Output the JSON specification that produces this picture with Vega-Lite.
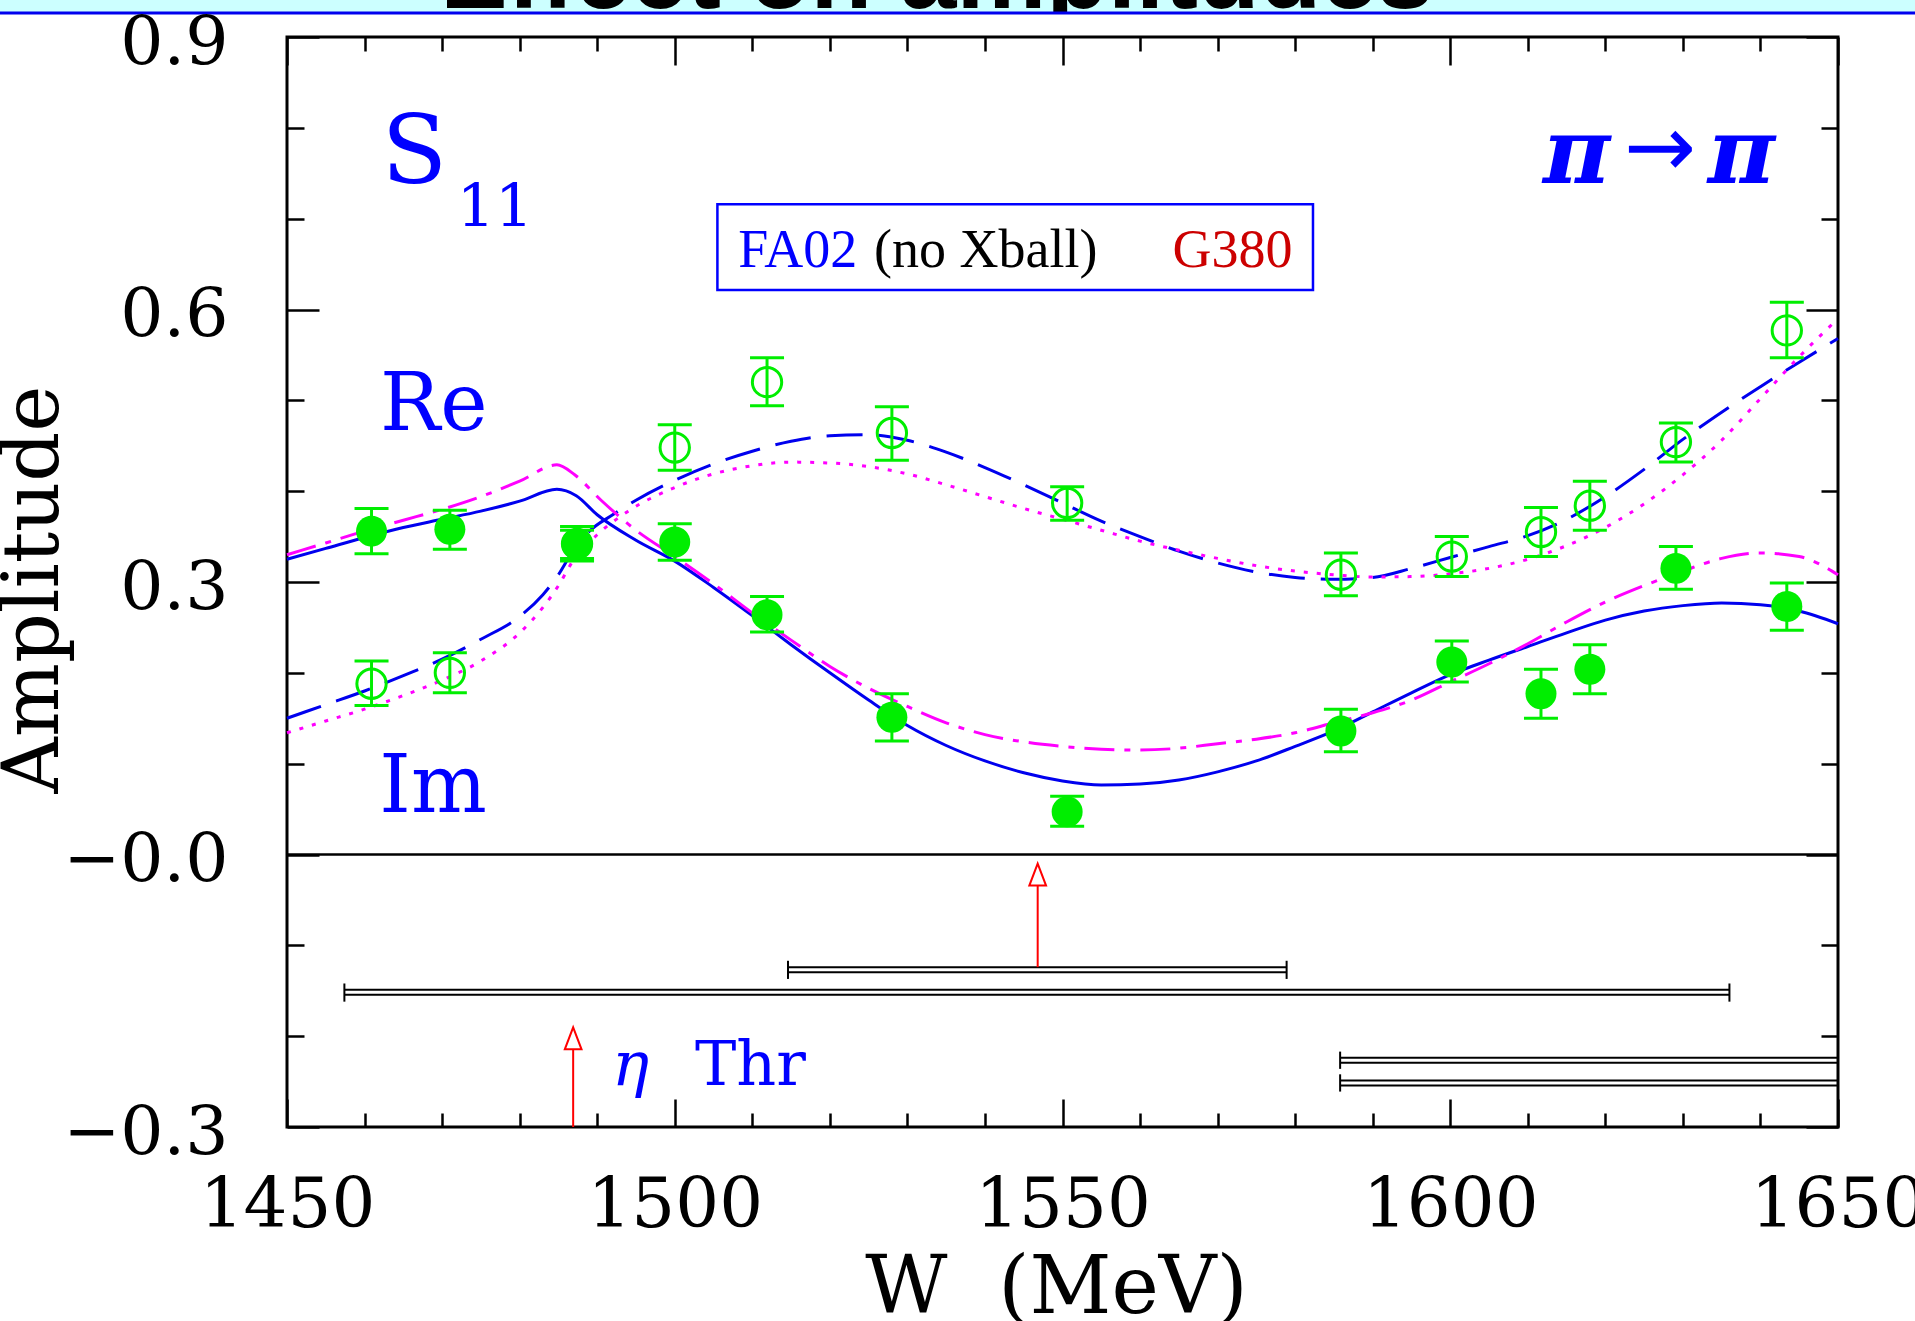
{
  "$schema": "https://vega.github.io/schema/vega-lite/v6.json",
  "width": 1551,
  "height": 1090,
  "autosize": {"type": "none"},
  "padding": {"left": 287, "top": 37, "right": 77, "bottom": 194},
  "background": "white",
  "config": {"view": {"stroke": "black", "strokeWidth": 3}, "axis": {"grid": false, "domain": false}},
  "resolve": {"axis": {"x": "independent", "y": "independent"}},
  "datasets": {
    "band": [{"W": 1400, "W2": 1680, "v": 0.97, "v2": 0.927}],
    "ttl": [{"W": 1533.8, "v": 0.9319, "t": "Effect on amplitudes"}],
    "cover": [{"W": 1540, "W2": 1566, "v": 0.9262, "v2": 0.9055}],
    "bandline": [{"W": 1400, "W2": 1680, "v": 0.9265}],
    "zero": [{"W": 1450, "W2": 1650, "v": 0}],
    "hb": [
      {"W": 1514.6, "W2": 1578.9, "v": -0.124},
      {"W": 1514.6, "W2": 1578.9, "v": -0.1295},
      {"W": 1457.4, "W2": 1636.0, "v": -0.149},
      {"W": 1457.4, "W2": 1636.0, "v": -0.1545},
      {"W": 1585.8, "W2": 1650, "v": -0.2238},
      {"W": 1585.8, "W2": 1650, "v": -0.2293},
      {"W": 1585.8, "W2": 1650, "v": -0.2487},
      {"W": 1585.8, "W2": 1650, "v": -0.2542}
    ],
    "vb": [
      {"W": 1514.6, "v": -0.117, "v2": -0.137},
      {"W": 1578.9, "v": -0.117, "v2": -0.137},
      {"W": 1457.4, "v": -0.142, "v2": -0.162},
      {"W": 1636.0, "v": -0.142, "v2": -0.162},
      {"W": 1585.8, "v": -0.217, "v2": -0.236},
      {"W": 1585.8, "v": -0.242, "v2": -0.261}
    ],
    "shaft": [
      {"W": 1546.8, "v": -0.124, "v2": -0.0336},
      {"W": 1486.9, "v": -0.3, "v2": -0.2145}
    ],
    "head": [
      {"W": 1546.8, "v": -0.0221},
      {"W": 1486.9, "v": -0.2024}
    ],
    "fa_re": [
      {"W": 1450, "v": 0.150}, {"W": 1455, "v": 0.165}, {"W": 1460, "v": 0.180}, {"W": 1465, "v": 0.197},
      {"W": 1470, "v": 0.215}, {"W": 1475, "v": 0.237}, {"W": 1480, "v": 0.262}, {"W": 1483, "v": 0.286},
      {"W": 1485, "v": 0.308}, {"W": 1487, "v": 0.336}, {"W": 1489, "v": 0.356}, {"W": 1492, "v": 0.374},
      {"W": 1495, "v": 0.390}, {"W": 1500, "v": 0.412}, {"W": 1505, "v": 0.430}, {"W": 1510, "v": 0.444},
      {"W": 1515, "v": 0.455}, {"W": 1520, "v": 0.461}, {"W": 1525, "v": 0.462}, {"W": 1530, "v": 0.456},
      {"W": 1535, "v": 0.443}, {"W": 1540, "v": 0.426}, {"W": 1545, "v": 0.407}, {"W": 1550, "v": 0.387},
      {"W": 1555, "v": 0.367}, {"W": 1560, "v": 0.350}, {"W": 1565, "v": 0.334}, {"W": 1570, "v": 0.321},
      {"W": 1575, "v": 0.311}, {"W": 1580, "v": 0.305}, {"W": 1585, "v": 0.303}, {"W": 1590, "v": 0.305},
      {"W": 1595, "v": 0.315}, {"W": 1600, "v": 0.327}, {"W": 1605, "v": 0.339}, {"W": 1610, "v": 0.351},
      {"W": 1615, "v": 0.369}, {"W": 1620, "v": 0.394}, {"W": 1625, "v": 0.424}, {"W": 1630, "v": 0.457},
      {"W": 1635, "v": 0.487}, {"W": 1640, "v": 0.515}, {"W": 1645, "v": 0.542}, {"W": 1650, "v": 0.568}
    ],
    "g_re": [
      {"W": 1450, "v": 0.134}, {"W": 1455, "v": 0.147}, {"W": 1460, "v": 0.160}, {"W": 1465, "v": 0.175},
      {"W": 1470, "v": 0.192}, {"W": 1475, "v": 0.213}, {"W": 1480, "v": 0.244}, {"W": 1483, "v": 0.272},
      {"W": 1485, "v": 0.296}, {"W": 1487, "v": 0.325}, {"W": 1490, "v": 0.352}, {"W": 1494, "v": 0.378},
      {"W": 1500, "v": 0.404}, {"W": 1505, "v": 0.419}, {"W": 1510, "v": 0.428}, {"W": 1515, "v": 0.432},
      {"W": 1520, "v": 0.431}, {"W": 1525, "v": 0.427}, {"W": 1530, "v": 0.419}, {"W": 1535, "v": 0.407},
      {"W": 1540, "v": 0.394}, {"W": 1545, "v": 0.381}, {"W": 1550, "v": 0.369}, {"W": 1555, "v": 0.357},
      {"W": 1560, "v": 0.345}, {"W": 1565, "v": 0.335}, {"W": 1570, "v": 0.326}, {"W": 1575, "v": 0.318},
      {"W": 1580, "v": 0.312}, {"W": 1585, "v": 0.308}, {"W": 1590, "v": 0.3055}, {"W": 1595, "v": 0.306},
      {"W": 1600, "v": 0.309}, {"W": 1605, "v": 0.315}, {"W": 1610, "v": 0.325}, {"W": 1615, "v": 0.340},
      {"W": 1620, "v": 0.360}, {"W": 1625, "v": 0.386}, {"W": 1630, "v": 0.418}, {"W": 1635, "v": 0.456},
      {"W": 1640, "v": 0.502}, {"W": 1645, "v": 0.548}, {"W": 1650, "v": 0.590}
    ],
    "fa_im": [
      {"W": 1450, "v": 0.325}, {"W": 1455, "v": 0.337}, {"W": 1460, "v": 0.349}, {"W": 1465, "v": 0.360},
      {"W": 1470, "v": 0.369}, {"W": 1475, "v": 0.378}, {"W": 1480, "v": 0.389}, {"W": 1484.8, "v": 0.402},
      {"W": 1487.3, "v": 0.395}, {"W": 1490, "v": 0.374}, {"W": 1495, "v": 0.346}, {"W": 1500, "v": 0.323},
      {"W": 1505, "v": 0.294}, {"W": 1510, "v": 0.263}, {"W": 1515, "v": 0.231}, {"W": 1520, "v": 0.200},
      {"W": 1525, "v": 0.170}, {"W": 1530, "v": 0.142}, {"W": 1535, "v": 0.120}, {"W": 1540, "v": 0.103},
      {"W": 1545, "v": 0.090}, {"W": 1550, "v": 0.081}, {"W": 1555, "v": 0.0765}, {"W": 1560, "v": 0.0775},
      {"W": 1565, "v": 0.082}, {"W": 1570, "v": 0.091}, {"W": 1575, "v": 0.103}, {"W": 1580, "v": 0.119},
      {"W": 1585, "v": 0.136}, {"W": 1590, "v": 0.157}, {"W": 1595, "v": 0.178}, {"W": 1600, "v": 0.198},
      {"W": 1605, "v": 0.214}, {"W": 1610, "v": 0.229}, {"W": 1615, "v": 0.244}, {"W": 1620, "v": 0.258},
      {"W": 1625, "v": 0.268}, {"W": 1630, "v": 0.274}, {"W": 1635, "v": 0.277}, {"W": 1640, "v": 0.275},
      {"W": 1645, "v": 0.268}, {"W": 1650, "v": 0.254}
    ],
    "g_im": [
      {"W": 1450, "v": 0.330}, {"W": 1455, "v": 0.343}, {"W": 1460, "v": 0.356}, {"W": 1465, "v": 0.368},
      {"W": 1470, "v": 0.380}, {"W": 1475, "v": 0.394}, {"W": 1480, "v": 0.411}, {"W": 1484.8, "v": 0.429},
      {"W": 1487.1, "v": 0.418}, {"W": 1490.5, "v": 0.390}, {"W": 1495, "v": 0.357}, {"W": 1500, "v": 0.328},
      {"W": 1505, "v": 0.298}, {"W": 1510, "v": 0.266}, {"W": 1515, "v": 0.236}, {"W": 1520, "v": 0.207},
      {"W": 1525, "v": 0.183}, {"W": 1530, "v": 0.163}, {"W": 1535, "v": 0.145}, {"W": 1540, "v": 0.132},
      {"W": 1545, "v": 0.124}, {"W": 1550, "v": 0.119}, {"W": 1555, "v": 0.116}, {"W": 1560, "v": 0.115},
      {"W": 1565, "v": 0.117}, {"W": 1570, "v": 0.122}, {"W": 1575, "v": 0.127}, {"W": 1580, "v": 0.134},
      {"W": 1585, "v": 0.145}, {"W": 1590, "v": 0.156}, {"W": 1595, "v": 0.170}, {"W": 1600, "v": 0.190},
      {"W": 1605, "v": 0.210}, {"W": 1610, "v": 0.232}, {"W": 1615, "v": 0.256}, {"W": 1620, "v": 0.278},
      {"W": 1625, "v": 0.296}, {"W": 1630, "v": 0.312}, {"W": 1635, "v": 0.326}, {"W": 1640, "v": 0.332},
      {"W": 1645, "v": 0.328}, {"W": 1650, "v": 0.308}
    ],
    "pts": [
      {"W": 1460.9, "v": 0.188, "lo": 0.164, "hi": 0.213, "part": "Re"},
      {"W": 1471.0, "v": 0.200, "lo": 0.178, "hi": 0.222, "part": "Re"},
      {"W": 1487.4, "v": 0.342, "lo": 0.326, "hi": 0.357, "part": "Re"},
      {"W": 1500.0, "v": 0.448, "lo": 0.423, "hi": 0.473, "part": "Re"},
      {"W": 1511.9, "v": 0.520, "lo": 0.494, "hi": 0.547, "part": "Re"},
      {"W": 1528.0, "v": 0.464, "lo": 0.434, "hi": 0.493, "part": "Re"},
      {"W": 1550.6, "v": 0.387, "lo": 0.368, "hi": 0.405, "part": "Re"},
      {"W": 1585.9, "v": 0.308, "lo": 0.285, "hi": 0.332, "part": "Re"},
      {"W": 1600.2, "v": 0.328, "lo": 0.306, "hi": 0.350, "part": "Re"},
      {"W": 1611.7, "v": 0.355, "lo": 0.328, "hi": 0.382, "part": "Re"},
      {"W": 1618.0, "v": 0.384, "lo": 0.357, "hi": 0.411, "part": "Re"},
      {"W": 1629.1, "v": 0.454, "lo": 0.432, "hi": 0.475, "part": "Re"},
      {"W": 1643.4, "v": 0.577, "lo": 0.547, "hi": 0.608, "part": "Re"},
      {"W": 1460.9, "v": 0.356, "lo": 0.331, "hi": 0.381, "part": "Im"},
      {"W": 1471.0, "v": 0.358, "lo": 0.336, "hi": 0.379, "part": "Im"},
      {"W": 1487.4, "v": 0.342, "lo": 0.323, "hi": 0.361, "part": "Im"},
      {"W": 1500.0, "v": 0.344, "lo": 0.324, "hi": 0.364, "part": "Im"},
      {"W": 1511.9, "v": 0.264, "lo": 0.245, "hi": 0.284, "part": "Im"},
      {"W": 1528.0, "v": 0.151, "lo": 0.125, "hi": 0.177, "part": "Im"},
      {"W": 1550.6, "v": 0.047, "lo": 0.031, "hi": 0.064, "part": "Im"},
      {"W": 1585.9, "v": 0.136, "lo": 0.113, "hi": 0.160, "part": "Im"},
      {"W": 1600.2, "v": 0.212, "lo": 0.190, "hi": 0.235, "part": "Im"},
      {"W": 1611.7, "v": 0.177, "lo": 0.150, "hi": 0.204, "part": "Im"},
      {"W": 1618.0, "v": 0.204, "lo": 0.177, "hi": 0.231, "part": "Im"},
      {"W": 1629.1, "v": 0.315, "lo": 0.292, "hi": 0.339, "part": "Im"},
      {"W": 1643.4, "v": 0.273, "lo": 0.247, "hi": 0.299, "part": "Im"}
    ],
    "s": [{"W": 1462.2, "v": 0.7393, "t": "S"}],
    "sub": [{"W": 1471.9, "v": 0.6908, "t": "11"}],
    "reim": [{"W": 1462.0, "v": 0.4673, "t": "Re"}, {"W": 1461.9, "v": 0.0468, "t": "Im"}],
    "pi": [{"W": 1611.96, "v": 0.7393, "t": "π"}, {"W": 1633.2, "v": 0.7393, "t": "π"}],
    "arr": [{"W": 1622.4, "v": 0.7470, "t": "→"}],
    "lbox": [{"W": 1505.5, "W2": 1582.3, "v": 0.7158, "v2": 0.6215}],
    "fa": [{"W": 1508.2, "v": 0.6465, "t": "FA02"}],
    "nox": [{"W": 1525.7, "v": 0.6465, "t": "(no Xball)"}],
    "g380": [{"W": 1564.2, "v": 0.6465, "t": "G380"}],
    "eta": [{"W": 1491.9, "v": -0.2543, "t": "η"}],
    "thr": [{"W": 1502.6, "v": -0.2543, "t": "Thr"}]
  },
  "layer": [
    {
      "data": {"name": "band"},
      "mark": {"type": "rect", "fill": "#ccffff"},
      "encoding": {
        "x": {"field": "W", "type": "quantitative", "scale": {"domain": [1450, 1650], "nice": false, "zero": false}, "axis": null},
        "x2": {"field": "W2"},
        "y": {"field": "v", "type": "quantitative", "scale": {"domain": [-0.3, 0.9], "nice": false, "zero": false}, "axis": null},
        "y2": {"field": "v2"}
      }
    },
    {
      "data": {"name": "ttl"},
      "mark": {"type": "text", "font": "Liberation Sans", "fontWeight": "bold", "fontSize": 101, "align": "center", "baseline": "alphabetic", "fill": "black"},
      "encoding": {
        "x": {"field": "W", "type": "quantitative", "scale": {"domain": [1450, 1650], "nice": false, "zero": false}, "axis": null},
        "y": {"field": "v", "type": "quantitative", "scale": {"domain": [-0.3, 0.9], "nice": false, "zero": false}, "axis": null},
        "text": {"field": "t"}
      }
    },
    {
      "data": {"name": "cover"},
      "mark": {"type": "rect", "fill": "white"},
      "encoding": {
        "x": {"field": "W", "type": "quantitative", "scale": {"domain": [1450, 1650], "nice": false, "zero": false}, "axis": null},
        "x2": {"field": "W2"},
        "y": {"field": "v", "type": "quantitative", "scale": {"domain": [-0.3, 0.9], "nice": false, "zero": false}, "axis": null},
        "y2": {"field": "v2"}
      }
    },
    {
      "data": {"name": "bandline"},
      "mark": {"type": "rule", "stroke": "#0000ee", "strokeWidth": 3},
      "encoding": {
        "x": {"field": "W", "type": "quantitative", "scale": {"domain": [1450, 1650], "nice": false, "zero": false}, "axis": null},
        "x2": {"field": "W2"},
        "y": {"field": "v", "type": "quantitative", "scale": {"domain": [-0.3, 0.9], "nice": false, "zero": false}, "axis": null}
      }
    },
    {
      "data": {"name": "zero"},
      "mark": {"type": "rule", "stroke": "black", "strokeWidth": 2.5},
      "encoding": {
        "x": {"field": "W", "type": "quantitative", "scale": {"domain": [1450, 1650], "nice": false, "zero": false},
          "axis": {"orient": "bottom", "values": [1450, 1500, 1550, 1600, 1650], "ticks": false, "domain": false, "grid": false,
            "labelFont": "DejaVu Serif", "labelFontSize": 69, "labelColor": "black", "labelPadding": 44, "labelFlush": false, "labelOverlap": false, "labelAngle": 0, "format": "d",
            "title": "W\u00a0\u00a0(MeV)", "titleFont": "DejaVu Serif", "titleFontSize": 80, "titleFontWeight": "normal", "titleColor": "black",
            "titleX": 769, "titleY": 185, "titleAlign": "center", "titleBaseline": "alphabetic", "titleAngle": 0, "zindex": 1}},
        "x2": {"field": "W2"},
        "y": {"field": "v", "type": "quantitative", "scale": {"domain": [-0.3, 0.9], "nice": false, "zero": false},
          "axis": {"orient": "left", "values": [-0.3, 0, 0.3, 0.6, 0.9], "ticks": false, "domain": false, "grid": false,
            "labelFont": "DejaVu Serif", "labelFontSize": 68, "labelColor": "black", "labelPadding": 59, "labelAlign": "right", "labelBaseline": "alphabetic", "labelOffset": 26,
            "labelFlush": false, "labelOverlap": false,
            "labelExpr": "datum.value == 0 ? '−0.0' : format(datum.value, '.1f')",
            "title": "Amplitude", "titleFont": "DejaVu Serif", "titleFontSize": 78, "titleFontWeight": "normal", "titleColor": "black",
            "titleAngle": 270, "titleX": -230, "titleY": 552, "titleAlign": "center", "titleBaseline": "alphabetic", "zindex": 1}}
      }
    },
    {
      "data": {"name": "hb"},
      "mark": {"type": "rule", "stroke": "black", "strokeWidth": 2},
      "encoding": {
        "x": {"field": "W", "type": "quantitative", "scale": {"domain": [1450, 1650], "nice": false, "zero": false},
          "axis": {"orient": "bottom", "values": [1450, 1500, 1550, 1600, 1650], "labels": false, "domain": false, "grid": false, "ticks": true, "tickSize": -28, "tickWidth": 2.5, "tickColor": "black", "title": null, "zindex": 1}},
        "x2": {"field": "W2"},
        "y": {"field": "v", "type": "quantitative", "scale": {"domain": [-0.3, 0.9], "nice": false, "zero": false},
          "axis": {"orient": "left", "values": [-0.3, 0, 0.3, 0.6, 0.9], "labels": false, "domain": false, "grid": false, "ticks": true, "tickSize": -32, "tickWidth": 2.5, "tickColor": "black", "title": null, "zindex": 1}}
      }
    },
    {
      "data": {"name": "vb"},
      "mark": {"type": "rule", "stroke": "black", "strokeWidth": 2},
      "encoding": {
        "x": {"field": "W", "type": "quantitative", "scale": {"domain": [1450, 1650], "nice": false, "zero": false},
          "axis": {"orient": "bottom", "values": [1460, 1470, 1480, 1490, 1510, 1520, 1530, 1540, 1560, 1570, 1580, 1590, 1610, 1620, 1630, 1640], "labels": false, "domain": false, "grid": false, "ticks": true, "tickSize": -14, "tickWidth": 2.5, "tickColor": "black", "title": null, "zindex": 1}},
        "y": {"field": "v", "type": "quantitative", "scale": {"domain": [-0.3, 0.9], "nice": false, "zero": false},
          "axis": {"orient": "left", "values": [-0.2, -0.1, 0.1, 0.2, 0.4, 0.5, 0.7, 0.8], "labels": false, "domain": false, "grid": false, "ticks": true, "tickSize": -17, "tickWidth": 2.5, "tickColor": "black", "title": null, "zindex": 1}},
        "y2": {"field": "v2"}
      }
    },
    {
      "data": {"name": "shaft"},
      "mark": {"type": "rule", "stroke": "#ff0000", "strokeWidth": 2},
      "encoding": {
        "x": {"field": "W", "type": "quantitative", "scale": {"domain": [1450, 1650], "nice": false, "zero": false}, "axis": null},
        "y": {"field": "v", "type": "quantitative", "scale": {"domain": [-0.3, 0.9], "nice": false, "zero": false}, "axis": null},
        "y2": {"field": "v2"}
      }
    },
    {
      "data": {"name": "head"},
      "mark": {"type": "point", "shape": "M0,-1L0.76,1L-0.76,1Z", "size": 484, "filled": false, "stroke": "#ff0000", "strokeWidth": 2, "opacity": 1},
      "encoding": {
        "x": {"field": "W", "type": "quantitative", "scale": {"domain": [1450, 1650], "nice": false, "zero": false}, "axis": null},
        "y": {"field": "v", "type": "quantitative", "scale": {"domain": [-0.3, 0.9], "nice": false, "zero": false}, "axis": null}
      }
    },
    {
      "data": {"name": "fa_re"},
      "mark": {"type": "line", "stroke": "#0000ee", "strokeWidth": 3, "strokeDash": [36, 16], "interpolate": "monotone"},
      "encoding": {
        "x": {"field": "W", "type": "quantitative", "scale": {"domain": [1450, 1650], "nice": false, "zero": false},
          "axis": {"orient": "top", "values": [1450, 1500, 1550, 1600, 1650], "labels": false, "domain": false, "grid": false, "ticks": true, "tickSize": -28, "tickWidth": 2.5, "tickColor": "black", "title": null, "zindex": 1}},
        "y": {"field": "v", "type": "quantitative", "scale": {"domain": [-0.3, 0.9], "nice": false, "zero": false},
          "axis": {"orient": "right", "values": [-0.3, 0, 0.3, 0.6, 0.9], "labels": false, "domain": false, "grid": false, "ticks": true, "tickSize": -32, "tickWidth": 2.5, "tickColor": "black", "title": null, "zindex": 1}}
      }
    },
    {
      "data": {"name": "g_re"},
      "mark": {"type": "line", "stroke": "#ff00ff", "strokeWidth": 3, "strokeDash": [4, 9], "interpolate": "monotone"},
      "encoding": {
        "x": {"field": "W", "type": "quantitative", "scale": {"domain": [1450, 1650], "nice": false, "zero": false},
          "axis": {"orient": "top", "values": [1460, 1470, 1480, 1490, 1510, 1520, 1530, 1540, 1560, 1570, 1580, 1590, 1610, 1620, 1630, 1640], "labels": false, "domain": false, "grid": false, "ticks": true, "tickSize": -14, "tickWidth": 2.5, "tickColor": "black", "title": null, "zindex": 1}},
        "y": {"field": "v", "type": "quantitative", "scale": {"domain": [-0.3, 0.9], "nice": false, "zero": false},
          "axis": {"orient": "right", "values": [-0.2, -0.1, 0.1, 0.2, 0.4, 0.5, 0.7, 0.8], "labels": false, "domain": false, "grid": false, "ticks": true, "tickSize": -17, "tickWidth": 2.5, "tickColor": "black", "title": null, "zindex": 1}}
      }
    },
    {
      "data": {"name": "fa_im"},
      "mark": {"type": "line", "stroke": "#0000ee", "strokeWidth": 3, "interpolate": "monotone"},
      "encoding": {
        "x": {"field": "W", "type": "quantitative", "scale": {"domain": [1450, 1650], "nice": false, "zero": false}, "axis": null},
        "y": {"field": "v", "type": "quantitative", "scale": {"domain": [-0.3, 0.9], "nice": false, "zero": false}, "axis": null}
      }
    },
    {
      "data": {"name": "g_im"},
      "mark": {"type": "line", "stroke": "#ff00ff", "strokeWidth": 3, "strokeDash": [30, 10, 6, 10], "interpolate": "monotone"},
      "encoding": {
        "x": {"field": "W", "type": "quantitative", "scale": {"domain": [1450, 1650], "nice": false, "zero": false}, "axis": null},
        "y": {"field": "v", "type": "quantitative", "scale": {"domain": [-0.3, 0.9], "nice": false, "zero": false}, "axis": null}
      }
    },
    {
      "data": {"name": "pts"},
      "mark": {"type": "rule", "stroke": "#00ee00", "strokeWidth": 3},
      "encoding": {
        "x": {"field": "W", "type": "quantitative", "scale": {"domain": [1450, 1650], "nice": false, "zero": false}, "axis": null},
        "y": {"field": "lo", "type": "quantitative", "scale": {"domain": [-0.3, 0.9], "nice": false, "zero": false}, "axis": null},
        "y2": {"field": "hi"}
      }
    },
    {
      "data": {"name": "pts"},
      "mark": {"type": "tick", "orient": "horizontal", "size": 34, "thickness": 3, "color": "#00ee00", "opacity": 1},
      "encoding": {
        "x": {"field": "W", "type": "quantitative", "scale": {"domain": [1450, 1650], "nice": false, "zero": false}, "axis": null},
        "y": {"field": "lo", "type": "quantitative", "scale": {"domain": [-0.3, 0.9], "nice": false, "zero": false}, "axis": null}
      }
    },
    {
      "data": {"name": "pts"},
      "mark": {"type": "tick", "orient": "horizontal", "size": 34, "thickness": 3, "color": "#00ee00", "opacity": 1},
      "encoding": {
        "x": {"field": "W", "type": "quantitative", "scale": {"domain": [1450, 1650], "nice": false, "zero": false}, "axis": null},
        "y": {"field": "hi", "type": "quantitative", "scale": {"domain": [-0.3, 0.9], "nice": false, "zero": false}, "axis": null}
      }
    },
    {
      "data": {"name": "pts"},
      "transform": [{"filter": "datum.part === 'Re'"}],
      "mark": {"type": "point", "shape": "circle", "size": 860, "filled": false, "stroke": "#00ee00", "strokeWidth": 3, "opacity": 1},
      "encoding": {
        "x": {"field": "W", "type": "quantitative", "scale": {"domain": [1450, 1650], "nice": false, "zero": false}, "axis": null},
        "y": {"field": "v", "type": "quantitative", "scale": {"domain": [-0.3, 0.9], "nice": false, "zero": false}, "axis": null}
      }
    },
    {
      "data": {"name": "pts"},
      "transform": [{"filter": "datum.part === 'Im'"}],
      "mark": {"type": "point", "shape": "circle", "size": 960, "filled": true, "fill": "#00ee00", "opacity": 1},
      "encoding": {
        "x": {"field": "W", "type": "quantitative", "scale": {"domain": [1450, 1650], "nice": false, "zero": false}, "axis": null},
        "y": {"field": "v", "type": "quantitative", "scale": {"domain": [-0.3, 0.9], "nice": false, "zero": false}, "axis": null}
      }
    },
    {
      "data": {"name": "s"},
      "mark": {"type": "text", "font": "DejaVu Serif", "fontSize": 96, "align": "left", "baseline": "alphabetic", "fill": "#0000ff"},
      "encoding": {
        "x": {"field": "W", "type": "quantitative", "scale": {"domain": [1450, 1650], "nice": false, "zero": false}, "axis": null},
        "y": {"field": "v", "type": "quantitative", "scale": {"domain": [-0.3, 0.9], "nice": false, "zero": false}, "axis": null},
        "text": {"field": "t"}
      }
    },
    {
      "data": {"name": "sub"},
      "mark": {"type": "text", "font": "DejaVu Serif", "fontSize": 60, "align": "left", "baseline": "alphabetic", "fill": "#0000ff"},
      "encoding": {
        "x": {"field": "W", "type": "quantitative", "scale": {"domain": [1450, 1650], "nice": false, "zero": false}, "axis": null},
        "y": {"field": "v", "type": "quantitative", "scale": {"domain": [-0.3, 0.9], "nice": false, "zero": false}, "axis": null},
        "text": {"field": "t"}
      }
    },
    {
      "data": {"name": "reim"},
      "mark": {"type": "text", "font": "DejaVu Serif", "fontSize": 80, "align": "left", "baseline": "alphabetic", "fill": "#0000ff"},
      "encoding": {
        "x": {"field": "W", "type": "quantitative", "scale": {"domain": [1450, 1650], "nice": false, "zero": false}, "axis": null},
        "y": {"field": "v", "type": "quantitative", "scale": {"domain": [-0.3, 0.9], "nice": false, "zero": false}, "axis": null},
        "text": {"field": "t"}
      }
    },
    {
      "data": {"name": "pi"},
      "mark": {"type": "text", "font": "DejaVu Serif", "fontSize": 92, "fontWeight": "bold", "fontStyle": "italic", "align": "left", "baseline": "alphabetic", "fill": "#0000ff"},
      "encoding": {
        "x": {"field": "W", "type": "quantitative", "scale": {"domain": [1450, 1650], "nice": false, "zero": false}, "axis": null},
        "y": {"field": "v", "type": "quantitative", "scale": {"domain": [-0.3, 0.9], "nice": false, "zero": false}, "axis": null},
        "text": {"field": "t"}
      }
    },
    {
      "data": {"name": "arr"},
      "mark": {"type": "text", "font": "DejaVu Sans", "fontSize": 86, "align": "left", "baseline": "alphabetic", "fill": "#0000ff"},
      "encoding": {
        "x": {"field": "W", "type": "quantitative", "scale": {"domain": [1450, 1650], "nice": false, "zero": false}, "axis": null},
        "y": {"field": "v", "type": "quantitative", "scale": {"domain": [-0.3, 0.9], "nice": false, "zero": false}, "axis": null},
        "text": {"field": "t"}
      }
    },
    {
      "data": {"name": "lbox"},
      "mark": {"type": "rect", "filled": false, "stroke": "#0000ff", "strokeWidth": 2.5, "fill": null},
      "encoding": {
        "x": {"field": "W", "type": "quantitative", "scale": {"domain": [1450, 1650], "nice": false, "zero": false}, "axis": null},
        "x2": {"field": "W2"},
        "y": {"field": "v", "type": "quantitative", "scale": {"domain": [-0.3, 0.9], "nice": false, "zero": false}, "axis": null},
        "y2": {"field": "v2"}
      }
    },
    {
      "data": {"name": "fa"},
      "mark": {"type": "text", "font": "Liberation Serif", "fontSize": 54, "align": "left", "baseline": "alphabetic", "fill": "#0000ff"},
      "encoding": {
        "x": {"field": "W", "type": "quantitative", "scale": {"domain": [1450, 1650], "nice": false, "zero": false}, "axis": null},
        "y": {"field": "v", "type": "quantitative", "scale": {"domain": [-0.3, 0.9], "nice": false, "zero": false}, "axis": null},
        "text": {"field": "t"}
      }
    },
    {
      "data": {"name": "nox"},
      "mark": {"type": "text", "font": "Liberation Serif", "fontSize": 54, "align": "left", "baseline": "alphabetic", "fill": "black"},
      "encoding": {
        "x": {"field": "W", "type": "quantitative", "scale": {"domain": [1450, 1650], "nice": false, "zero": false}, "axis": null},
        "y": {"field": "v", "type": "quantitative", "scale": {"domain": [-0.3, 0.9], "nice": false, "zero": false}, "axis": null},
        "text": {"field": "t"}
      }
    },
    {
      "data": {"name": "g380"},
      "mark": {"type": "text", "font": "Liberation Serif", "fontSize": 54, "align": "left", "baseline": "alphabetic", "fill": "#cc0000"},
      "encoding": {
        "x": {"field": "W", "type": "quantitative", "scale": {"domain": [1450, 1650], "nice": false, "zero": false}, "axis": null},
        "y": {"field": "v", "type": "quantitative", "scale": {"domain": [-0.3, 0.9], "nice": false, "zero": false}, "axis": null},
        "text": {"field": "t"}
      }
    },
    {
      "data": {"name": "eta"},
      "mark": {"type": "text", "font": "DejaVu Serif", "fontSize": 62, "fontStyle": "italic", "align": "left", "baseline": "alphabetic", "fill": "#0000ff"},
      "encoding": {
        "x": {"field": "W", "type": "quantitative", "scale": {"domain": [1450, 1650], "nice": false, "zero": false}, "axis": null},
        "y": {"field": "v", "type": "quantitative", "scale": {"domain": [-0.3, 0.9], "nice": false, "zero": false}, "axis": null},
        "text": {"field": "t"}
      }
    },
    {
      "data": {"name": "thr"},
      "mark": {"type": "text", "font": "DejaVu Serif", "fontSize": 62, "align": "left", "baseline": "alphabetic", "fill": "#0000ff"},
      "encoding": {
        "x": {"field": "W", "type": "quantitative", "scale": {"domain": [1450, 1650], "nice": false, "zero": false}, "axis": null},
        "y": {"field": "v", "type": "quantitative", "scale": {"domain": [-0.3, 0.9], "nice": false, "zero": false}, "axis": null},
        "text": {"field": "t"}
      }
    }
  ]
}
